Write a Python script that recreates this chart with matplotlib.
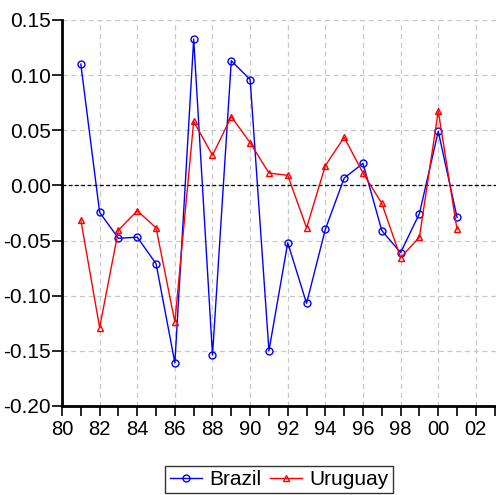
"""Brazil vs Uruguay annual series, 1981-2001."""

import matplotlib
matplotlib.use('Agg')
import matplotlib.pyplot as plt
from matplotlib.ticker import FuncFormatter, MultipleLocator

YEARS = list(range(1981, 2002))
BRAZIL = [0.110, -0.0245, -0.048, -0.047, -0.071, -0.161, 0.1327, -0.154,
          0.113, 0.096, -0.150, -0.052, -0.107, -0.0397, 0.0066, 0.020,
          -0.041, -0.061, -0.0255, 0.049, -0.029]
URUGUAY = [-0.0315, -0.129, -0.0406, -0.023, -0.0385, -0.124, 0.058, 0.0273,
           0.0624, 0.0387, 0.0112, 0.0091, -0.0385, 0.018, 0.0436, 0.0112,
           -0.0164, -0.0655, -0.047, 0.0675, -0.040]
SERIES_NAMES = ['Brazil', 'Uruguay']

plt.rcParams['font.family'] = ['Liberation Sans', 'DejaVu Sans']

fig = plt.figure(figsize=(4.96, 4.95), dpi=100)
ax = fig.add_axes([0.125, 0.18, 0.875, 0.7796])

ax.grid(True, color='#c8c8c8', linestyle=(0, (4, 3)), linewidth=0.9)
ax.set_axisbelow(True)
ax.axhline(0, color='black', linestyle=(0, (3, 2)), linewidth=0.9, zorder=1)

ax.plot(YEARS, BRAZIL, color='blue', linewidth=1.0, marker='o',
        markersize=5, markerfacecolor='none', markeredgewidth=1.0,
        label=SERIES_NAMES[0], zorder=3)
ax.plot(YEARS, URUGUAY, color='red', linewidth=1.0, marker='^',
        markersize=5, markerfacecolor='none', markeredgewidth=1.0,
        label=SERIES_NAMES[1], zorder=3)

ax.set_xlim(1980, 2003.07)
ax.set_ylim(-0.20, 0.15)
ax.xaxis.set_major_locator(MultipleLocator(2))
ax.xaxis.set_minor_locator(MultipleLocator(1))
ax.yaxis.set_major_locator(MultipleLocator(0.05))
ax.xaxis.set_major_formatter(FuncFormatter(lambda v, p: f'{int(round(v)) % 100:02d}'))
ax.yaxis.set_major_formatter(FuncFormatter(lambda v, p: f'{v:.2f}'))

for side in ('top', 'right'):
    ax.spines[side].set_visible(False)
for side in ('left', 'bottom'):
    ax.spines[side].set_linewidth(2.0)

ax.tick_params(axis='both', which='both', direction='out', length=7,
               width=1.2)
ax.tick_params(axis='x', which='major', pad=3, labelsize=14.5)
ax.tick_params(axis='y', which='major', pad=1, labelsize=15)
ax.xaxis.grid(False, which='minor')

leg = fig.legend(loc='lower center', bbox_to_anchor=(0.5625, 0.004), ncol=2,
                 fontsize=15, frameon=True, fancybox=False, edgecolor='black',
                 handlelength=1.55, handletextpad=0.35, columnspacing=0.4,
                 borderpad=0.2, borderaxespad=0)
leg.get_frame().set_linewidth(1.0)

fig.savefig('out.png', dpi=100)
